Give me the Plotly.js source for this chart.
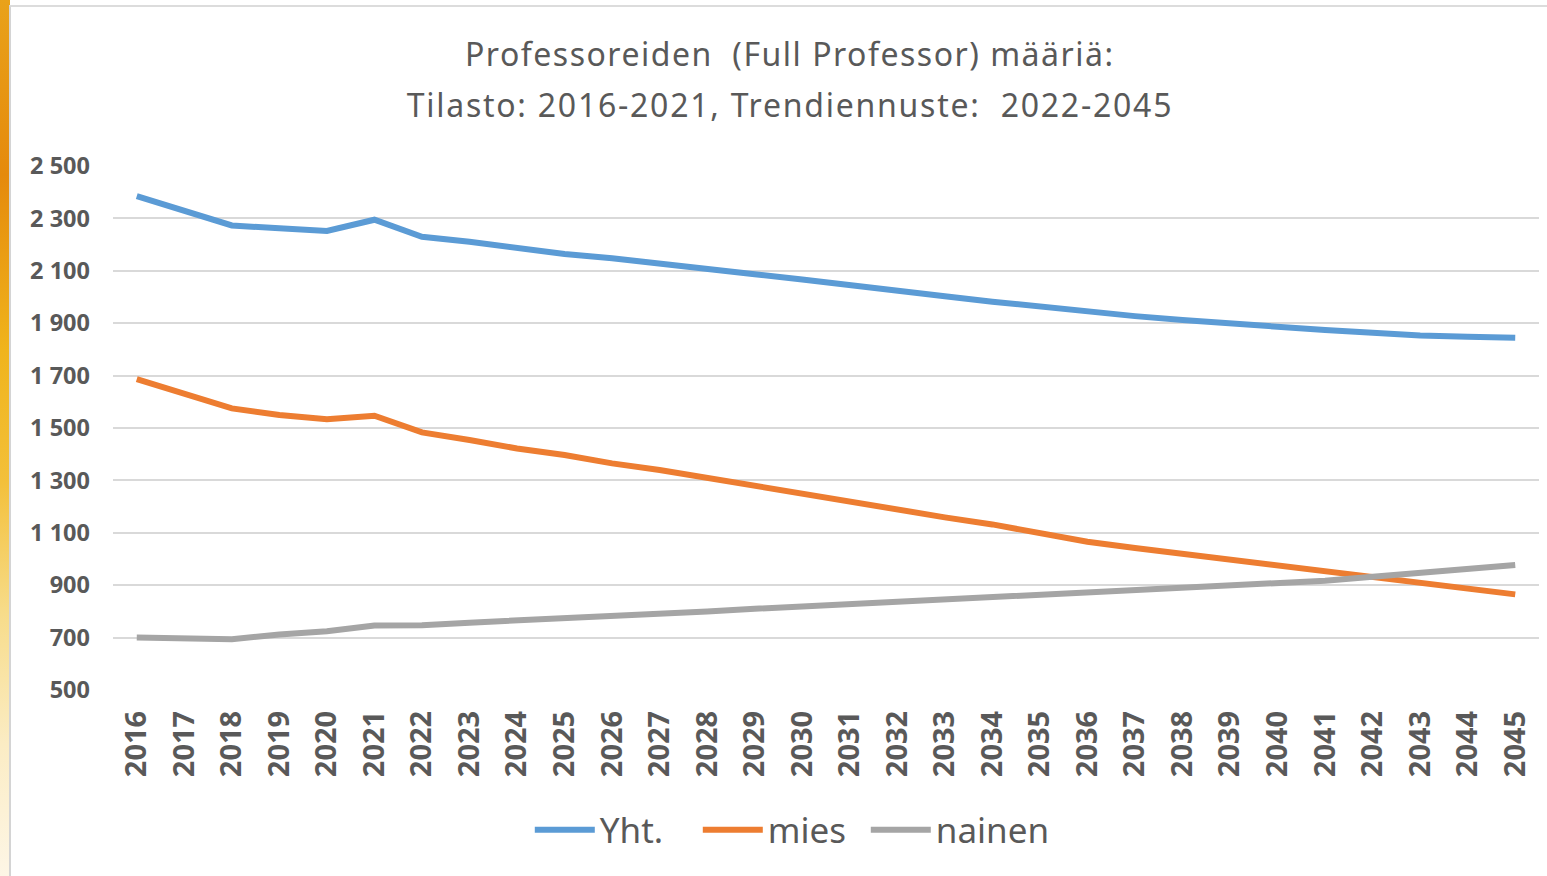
<!DOCTYPE html>
<html>
<head>
<meta charset="utf-8">
<script src="https://cdn.plot.ly/plotly-3.0.1.min.js"></script>
<style>
  html, body { margin: 0; padding: 0; width: 1547px; height: 876px; overflow: hidden; background: #ffffff; }
  #strip { position: absolute; left: 0; top: 0; width: 10px; height: 876px;
    background: linear-gradient(to bottom, #e9a21a 0%, #e58a0c 20%, #f0b41c 40%, #f3c03a 55%, #f7dc8a 70%, #fbecc4 85%, #fdf6e6 100%); }
  #frame { position: absolute; left: 9px; top: 5px; width: 1538px; height: 871px; background: #ffffff;
    border-left: 2px solid #d4d4d4; border-top: 2px solid #dcdcdc; box-sizing: border-box; }
  #chart { position: absolute; left: 11px; top: 7px; width: 1536px; height: 869px; }
  #chart .gtitle { letter-spacing: 1.5px; }
  #chart .annotation-text { letter-spacing: 1.75px; }
  #chart .legend, #chart .legend * { clip-path: none !important; }
</style>
</head>
<body>
<div id="strip"></div>
<div id="frame"></div>
<div id="chart"></div>
<script>
const years = ["2016","2017","2018","2019","2020","2021","2022","2023","2024","2025",
               "2026","2027","2028","2029","2030","2031","2032","2033","2034","2035",
               "2036","2037","2038","2039","2040","2041","2042","2043","2044","2045"];
const yht    = [2385, 2332, 2273, 2262, 2252, 2295, 2230, 2211, 2186, 2164,
                2148, 2126, 2108, 2087, 2067, 2044, 2022, 2003, 1982, 1963,
                1944, 1927, 1912, 1898, 1883, 1874, 1864, 1853, 1848, 1844];
const mies   = [1687, 1632, 1575, 1550, 1533, 1547, 1483, 1454, 1422, 1397,
                1365, 1340, 1310, 1279, 1247, 1215, 1187, 1159, 1132, 1098,
                1066, 1042, 1020, 995, 972, 952, 930, 908, 886, 865];
const nainen = [700, 699, 694, 712, 724, 746, 747, 757, 765, 772,
                781, 790, 800, 810, 819, 828, 837, 846, 855, 865,
                874, 883, 891, 899, 908, 917, 932, 946, 960, 977];
const seriesNames = ["Yht.", "mies", "nainen"];
const titleLine1 = "Professoreiden\u00a0 (Full Professor) määriä:";
const titleLine2 = "Tilasto: 2016-2021, Trendiennuste:\u00a0 2022-2045";

const colors = ["#5B9BD5", "#ED7D31", "#A5A5A5"];
const data = [yht, mies, nainen].map((vals, i) => ({
  type: "scatter", mode: "lines", name: seriesNames[i],
  x: years, y: vals,
  line: { color: colors[i], width: 6 },
  hoverinfo: "x+y+name"
}));

const txt = "#595959";
const layout = {
  width: 1536, height: 869,
  paper_bgcolor: "rgba(0,0,0,0)", plot_bgcolor: "rgba(0,0,0,0)",
  margin: { l: 102, r: 8, t: 159, b: 186, autoexpand: false },
  separators: ", ",
  font: { family: "Noto Sans, Open Sans, sans-serif", color: txt },
  title: {
    text: titleLine1,
    font: { family: "Noto Sans, Open Sans, sans-serif", size: 32, color: txt },
    xref: "container", x: 0.507, xanchor: "center",
    yref: "container", y: 0.945, yanchor: "middle"
  },
  annotations: [{
    text: titleLine2, showarrow: false,
    xref: "paper", x: 0.475, xanchor: "center",
    yref: "paper", y: 1.118, yanchor: "middle",
    font: { family: "Noto Sans, Open Sans, sans-serif", size: 32, color: txt }
  }],
  xaxis: {
    type: "category", range: [-0.5, 29.5],
    tickangle: -90, showgrid: false, zeroline: false, showline: false,
    ticks: "", ticklabelstandoff: 14,
    tickfont: { family: "Noto Sans, sans-serif", size: 29, color: txt, weight: "bold" },
    fixedrange: true
  },
  yaxis: {
    range: [500, 2500], dtick: 200, tick0: 500, tickformat: ",d",
    showgrid: true, gridcolor: "#D9D9D9", gridwidth: 2,
    zeroline: false, showline: false, ticks: "", ticklabelstandoff: 22,
    tickfont: { family: "Noto Sans, sans-serif", size: 23.5, color: txt, weight: "bold" },
    fixedrange: true
  },
  showlegend: true,
  legend: {
    orientation: "h", xref: "paper", x: 0.469, xanchor: "center",
    yref: "paper", y: -0.267, yanchor: "middle",
    font: { family: "Noto Sans, Open Sans, sans-serif", size: 35, color: txt },
    itemwidth: 60, entrywidth: 93, entrywidthmode: "pixels",
    bgcolor: "rgba(0,0,0,0)", tracegroupgap: 0
  }
};
Plotly.newPlot("chart", data, layout, { displayModeBar: false, staticPlot: false });
</script>
</body>
</html>
